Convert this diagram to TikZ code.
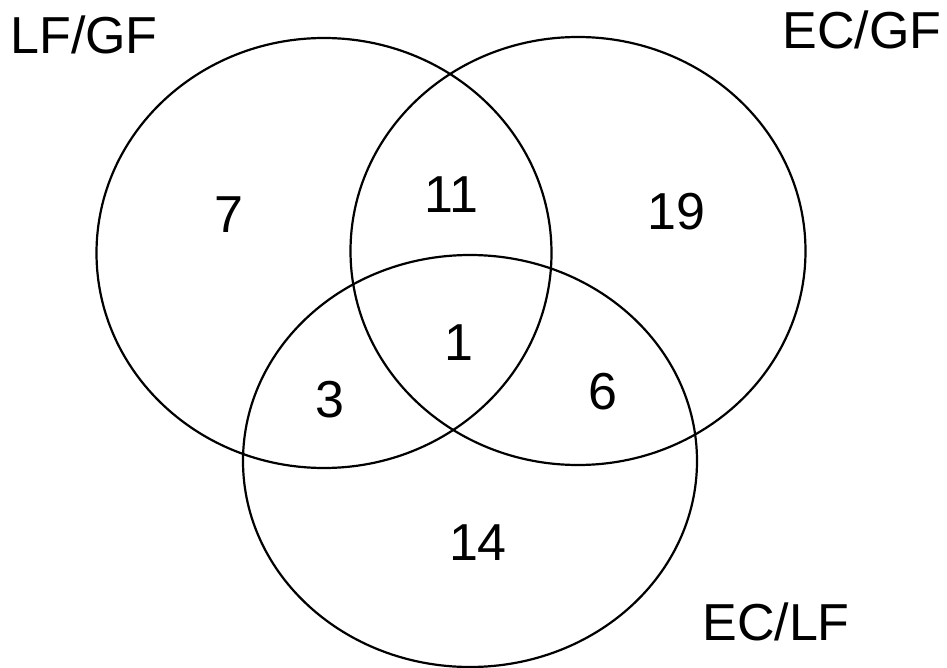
\documentclass[tikz,border=0pt]{standalone}
\usepackage{fontspec}
\setmainfont{Liberation Sans}
\usetikzlibrary{shapes.geometric}
\begin{document}
\begin{tikzpicture}[
    x=1pt, y=-1pt,
    set/.style={draw, ellipse, line width=2.2pt, inner sep=0pt},
    count/.style={font=\fontsize{52}{52}\selectfont, inner sep=0pt}
  ]
    \useasboundingbox (0,0) rectangle (947,668);

    % Sets
    \node[set, minimum width=455pt, minimum height=430pt] at (324,253) (lfgf) {};
    \node[set, minimum width=455pt, minimum height=428pt] at (578,251) (ecgf) {};
    \node[set, minimum width=454pt, minimum height=412pt] at (470,461) (eclf) {};

    % Set names
    \node[count] at (84,35)  (lfgfname) {LF/GF};
    \node[count] at (862,30) (ecgfname) {EC/GF};
    \node[count] at (776,622)(eclfname) {EC/LF};

    % Counts
    \node[count] at (229,215) (onlylf)  {7};
    \node[count] at (451,195) (lfec)    {11};
    \node[count] at (676,212) (onlyec)  {19};
    \node[count] at (459,343) (all)     {1};
    \node[count] at (330,400) (lfel)    {3};
    \node[count] at (603,392) (ecel)    {6};
    \node[count] at (478,543) (onlyel)  {14};

  \end{tikzpicture}
\end{document}
